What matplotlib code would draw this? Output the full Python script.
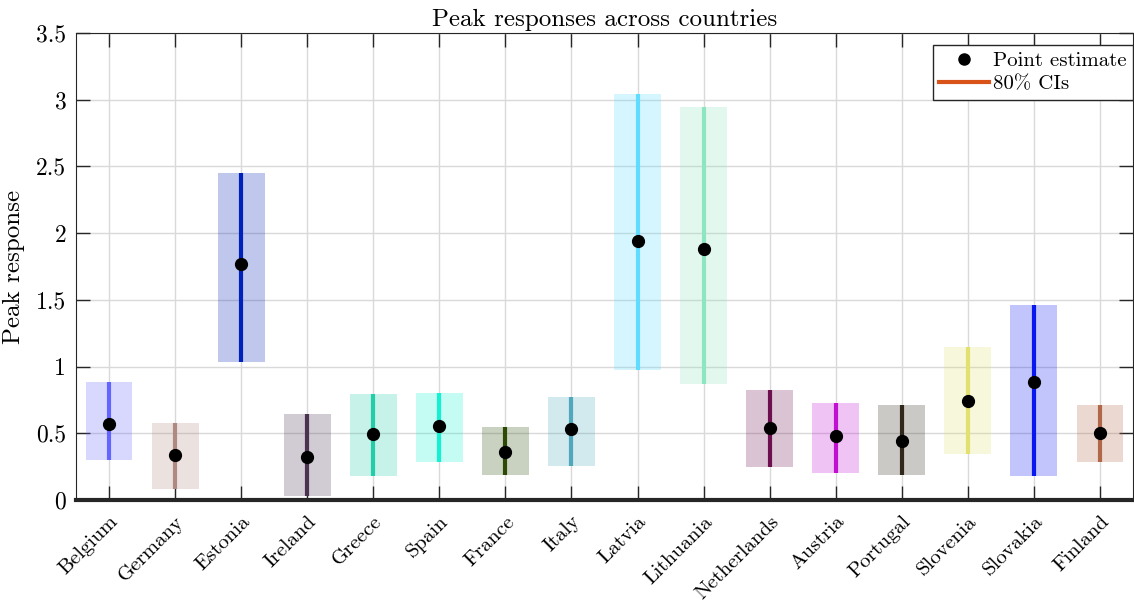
import matplotlib
matplotlib.use("Agg")
import matplotlib.pyplot as plt
import matplotlib.transforms as mtransforms
from matplotlib.lines import Line2D
import numpy as np

plt.rcParams['font.family'] = 'serif'
plt.rcParams['font.serif'] = ['cmr10', 'DejaVu Serif']
plt.rcParams['mathtext.fontset'] = 'cm'
plt.rcParams['axes.unicode_minus'] = False
plt.rcParams['axes.formatter.use_mathtext'] = True

countries = ["Belgium", "Germany", "Estonia", "Ireland", "Greece", "Spain", "France", "Italy",
             "Latvia", "Lithuania", "Netherlands", "Austria", "Portugal", "Slovenia", "Slovakia", "Finland"]
point = [0.57, 0.337, 1.767, 0.32, 0.497, 0.555, 0.362, 0.532,
         1.944, 1.882, 0.542, 0.48, 0.44, 0.742, 0.882, 0.502]
ci_low = [0.30, 0.08, 1.037, 0.03, 0.18, 0.287, 0.187, 0.253,
          0.972, 0.872, 0.245, 0.205, 0.187, 0.342, 0.18, 0.287]
ci_high = [0.885, 0.58, 2.45, 0.647, 0.795, 0.80, 0.547, 0.772,
           3.04, 2.944, 0.827, 0.73, 0.71, 1.149, 1.46, 0.71]
colors = ["#6464ff", "#b08a82", "#0022bb", "#4b3352", "#22cda8", "#14f0d2", "#2a4a06", "#4fa8bb",
          "#5fdcff", "#8ee6c0", "#6e1050", "#c010d2", "#30281a", "#e2e070", "#0818f0", "#b06848"]

fig = plt.figure(figsize=(11.34, 6.05), dpi=100)
ax = fig.add_axes([76 / 1134, 105 / 605, 1057 / 1134, 467 / 605])

x = np.arange(1, len(countries) + 1)
box_w = 0.71
for i in range(len(countries)):
    ax.bar(x[i], ci_high[i] - ci_low[i], bottom=ci_low[i], width=box_w,
           color=colors[i], alpha=0.25, linewidth=0, zorder=2)
    ax.plot([x[i], x[i]], [ci_low[i], ci_high[i]], color=colors[i], linewidth=3, zorder=3,
            solid_capstyle='butt')
ax.plot(x, point, 'o', color='black', markersize=8.5, zorder=4)

ax.set_xlim(0.5, 16.5)
ax.set_ylim(0, 3.5)
ax.set_xticks(x)
ax.set_xticklabels(countries, rotation=45, ha='right', rotation_mode='anchor', fontsize=15)
# shift the rotated labels a little to the right, like the original
offset = mtransforms.ScaledTranslation(10 / 100, 0, fig.dpi_scale_trans)
for lab in ax.get_xticklabels():
    lab.set_transform(lab.get_transform() + offset)
ax.set_yticks([0, 0.5, 1, 1.5, 2, 2.5, 3, 3.5])
ax.set_yticklabels(["0", "0.5", "1", "1.5", "2", "2.5", "3", "3.5"], fontsize=17)
ax.tick_params(direction='in', length=10, width=1, top=True, right=True, color='#262626')
ax.tick_params(axis='x', pad=9)
ax.tick_params(axis='y', pad=7)
ax.grid(True, color='#d9d9d9', linewidth=1)
ax.set_axisbelow(True)
for s in ax.spines.values():
    s.set_color('#262626')
ax.spines['bottom'].set_linewidth(3)
ax.set_title("Peak responses across countries", fontsize=18, pad=5)
ax.set_ylabel("Peak response", fontsize=18, labelpad=8)

handles = [Line2D([], [], marker='o', color='black', linestyle='none', markersize=8),
           Line2D([], [], color='#d95319', linewidth=3)]
leg = ax.legend(handles, ["Point estimate", "80% CIs"], loc='upper right',
                bbox_to_anchor=(1.0, 1 - 12 / 467), borderaxespad=0, fontsize=15,
                frameon=True, fancybox=False, edgecolor='#262626', framealpha=1,
                handlelength=2.4, handletextpad=0.2, labelspacing=0.25,
                borderpad=0.3)
leg.get_frame().set_linewidth(1)

fig.savefig("out.png", dpi=100)
